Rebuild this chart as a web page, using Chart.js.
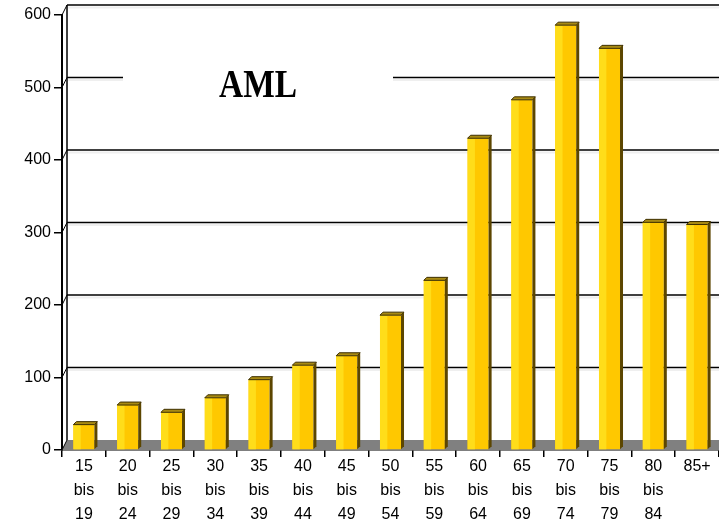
<!DOCTYPE html>
<html>
<head>
<meta charset="utf-8">
<script src="https://cdn.jsdelivr.net/npm/chart.js@4.4.1/dist/chart.umd.min.js"></script>
<style>
  html, body { margin: 0; padding: 0; background: #fff; }
  #wrap { width: 719px; height: 531px; position: relative; }
</style>
</head>
<body>
<div id="wrap"><canvas id="amlChart"></canvas></div>
<script>
// age groups (x axis), three-line labels like the original
const ageGroups = [
  ['15', 'bis', '19'], ['20', 'bis', '24'], ['25', 'bis', '29'], ['30', 'bis', '34'],
  ['35', 'bis', '39'], ['40', 'bis', '44'], ['45', 'bis', '49'], ['50', 'bis', '54'],
  ['55', 'bis', '59'], ['60', 'bis', '64'], ['65', 'bis', '69'], ['70', 'bis', '74'],
  ['75', 'bis', '79'], ['80', 'bis', '84'], ['85+']
];
// cases per age group
const cases = [35, 62, 52, 72, 97, 117, 130, 186, 234, 430, 483, 586, 554, 314, 311];
const yTicks = [0, 100, 200, 300, 400, 500, 600];
const chartTitle = 'AML';

// 3D look: back wall, floor, gridlines and the title box
const wallPlugin = {
  id: 'wall3d',
  beforeDatasetsDraw(chart) {
    const { ctx, chartArea: a, scales: { y } } = chart;
    const dx = 5, dy = 10;
    ctx.save();

    // floor
    ctx.fillStyle = '#808080';
    ctx.beginPath();
    ctx.moveTo(a.left, a.bottom);
    ctx.lineTo(a.left + dx, a.bottom - dy);
    ctx.lineTo(a.right, a.bottom - dy);
    ctx.lineTo(a.right, a.bottom);
    ctx.closePath();
    ctx.fill();

    // gridlines on the back wall + little slanted connectors
    yTicks.forEach(v => {
      const py = y.getPixelForValue(v);
      ctx.strokeStyle = '#000';
      ctx.lineWidth = 1;
      ctx.beginPath();
      ctx.moveTo(a.left, py);
      ctx.lineTo(a.left + dx, py - dy);
      ctx.stroke();
      if (v === 0) return;
      ctx.strokeStyle = '#efefef';
      ctx.lineWidth = 2;
      ctx.beginPath();
      ctx.moveTo(a.left + dx, py - dy + 2.5);
      ctx.lineTo(a.right, py - dy + 2.5);
      ctx.stroke();
      ctx.strokeStyle = '#000';
      ctx.lineWidth = 1.5;
      ctx.beginPath();
      ctx.moveTo(a.left + dx, py - dy);
      ctx.lineTo(a.right, py - dy);
      ctx.stroke();
    });

    // back wall left edge
    ctx.strokeStyle = '#000';
    ctx.lineWidth = 1.5;
    ctx.beginPath();
    ctx.moveTo(a.left + dx, y.getPixelForValue(yTicks[yTicks.length - 1]) - dy);
    ctx.lineTo(a.left + dx, a.bottom - dy);
    ctx.stroke();

    // title with white box over the gridline
    ctx.fillStyle = '#fff';
    ctx.fillRect(123, 62, 270, 44);
    ctx.fillStyle = '#000';
    ctx.font = 'bold 39px "Liberation Serif", "Times New Roman", serif';
    ctx.textAlign = 'center';
    ctx.textBaseline = 'middle';
    const w = ctx.measureText(chartTitle).width;
    ctx.translate(258, 87);
    ctx.scale(78 / w, 1);
    ctx.fillText(chartTitle, 0, 0);
    ctx.restore();
  },
  afterDatasetsDraw(chart) {
    const { ctx } = chart;
    const d = 3;
    ctx.save();
    chart.getDatasetMeta(0).data.forEach(bar => {
      const l = bar.x - bar.width / 2, r = bar.x + bar.width / 2;
      const t = bar.y, b = bar.base;
      // lighter stripe on the left of the front face
      ctx.fillStyle = '#FFDD1A';
      ctx.fillRect(l, t, bar.width * 0.35, b - t);
      // side face
      ctx.fillStyle = '#5c4600';
      ctx.beginPath();
      ctx.moveTo(r, t);
      ctx.lineTo(r + d, t - d);
      ctx.lineTo(r + d, b - d);
      ctx.lineTo(r, b);
      ctx.closePath();
      ctx.fill();
      // top cap
      ctx.fillStyle = '#A88A12';
      ctx.strokeStyle = '#3d2f00';
      ctx.lineWidth = 1;
      ctx.beginPath();
      ctx.moveTo(l, t);
      ctx.lineTo(l + d, t - d);
      ctx.lineTo(r + d, t - d);
      ctx.lineTo(r, t);
      ctx.closePath();
      ctx.fill();
      ctx.stroke();
    });
    ctx.restore();
  }
};

const ctx = document.getElementById('amlChart').getContext('2d');
new Chart(ctx, {
  type: 'bar',
  data: {
    labels: ageGroups,
    datasets: [{
      label: chartTitle,
      data: cases,
      backgroundColor: '#FFC800',
      borderWidth: 0,
      categoryPercentage: 1,
      barPercentage: 0.48,
    }],
  },
  options: {
    responsive: true,
    maintainAspectRatio: false,
    animation: false,
    layout: { padding: { top: 15, right: 0, left: 0, bottom: 0 } },
    plugins: {
      legend: { display: false },
      tooltip: { enabled: false },
    },
    scales: {
      x: {
        grid: { offset: true, drawOnChartArea: false, tickLength: 7, color: '#000', lineWidth: 1.5 },
        border: { display: true, color: '#000', width: 1.5 },
        ticks: {
          color: '#000',
          padding: -2,
          maxRotation: 0,
          autoSkip: false,
          font: { family: '"Liberation Sans", Arial, sans-serif', size: 16, lineHeight: 1.5 },
        },
        afterFit: s => { s.height = 81; },
      },
      y: {
        min: 0,
        max: 600,
        afterBuildTicks: s => { s.ticks = yTicks.map(v => ({ value: v })); },
        grid: { drawOnChartArea: false, tickLength: 8, color: '#000', lineWidth: 1.5 },
        border: { display: true, color: '#000', width: 2 },
        ticks: {
          color: '#000',
          padding: 3,
          font: { family: '"Liberation Sans", Arial, sans-serif', size: 16 },
        },
        afterFit: s => { s.width = 62; },
      },
    },
  },
  plugins: [wallPlugin],
});
</script>
</body>
</html>
